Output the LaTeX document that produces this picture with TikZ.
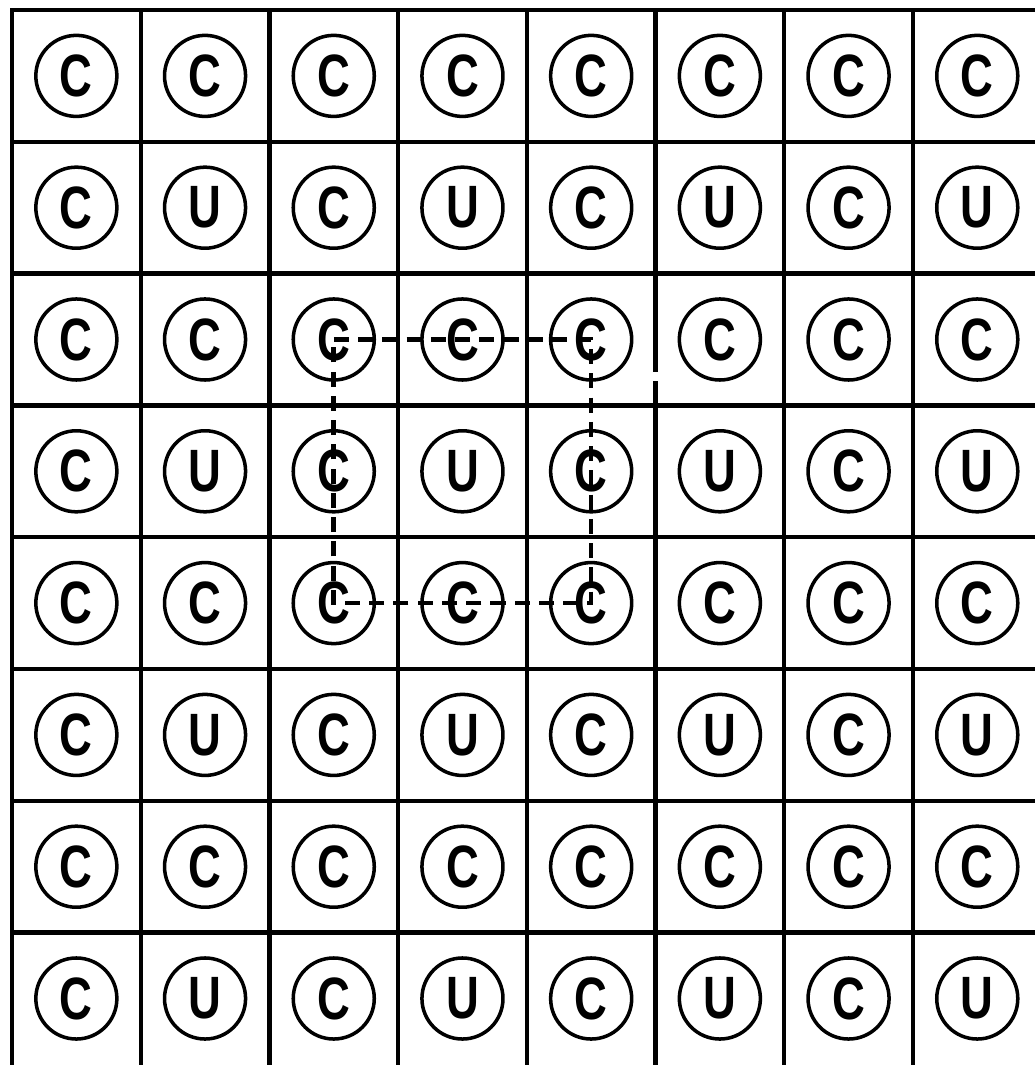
\documentclass[tikz,border=0pt]{standalone}
\usepackage{fontspec}
\setmainfont{Liberation Sans}
\begin{document}
\begin{tikzpicture}[x=0.01cm,y=-0.01cm,
  gridline/.style={line width=1.2pt,line cap=rect},
  cell/.style={circle,draw,line width=1.0pt,minimum size=0.81cm,inner sep=0pt,
    font=\fontsize{17}{18}\selectfont\bfseries},
  path/.style={line width=1.3pt,dash pattern=on 4.3pt off 2.6pt}]
\useasboundingbox (0,0) rectangle (1034,1065);
% grid
\def\xs{128.7}
\def\ys{131.8}
\draw[gridline] (12,10) -- (1034,10);
\draw[gridline] (12,10) -- (12,1065);
\foreach \i in {1,...,7}{
  \draw[gridline] (12,10+\i*\ys) -- (1034,10+\i*\ys);
}
\foreach \i in {1,2,3,4,6,7}{
  \draw[gridline] (12+\i*\xs,10) -- (12+\i*\xs,1065);
}
\draw[gridline] (12+5*\xs,10) -- (12+5*\xs,370);
\draw[gridline] (12+5*\xs,383) -- (12+5*\xs,1065);
% circles
\foreach \r in {1,...,8}{
  \foreach \c in {1,...,8}{
    \pgfmathsetmacro{\isu}{(mod(\r,2)==0 && mod(\c,2)==0) ? 1 : 0}
    \ifdim\isu pt>0.5pt
      \def\lab{U}
    \else
      \def\lab{C}
    \fi
    \node[cell] (n\r\c) at (12+\c*\xs-0.5*\xs,10+\r*\ys-0.5*\ys) {\scalebox{0.76}[1]{\lab}};
  }
}
% dashed loop
\draw[path] (n33.center) -- (n35.center) -- (n55.center) -- (n53.center) -- cycle;
\end{tikzpicture}
\end{document}
